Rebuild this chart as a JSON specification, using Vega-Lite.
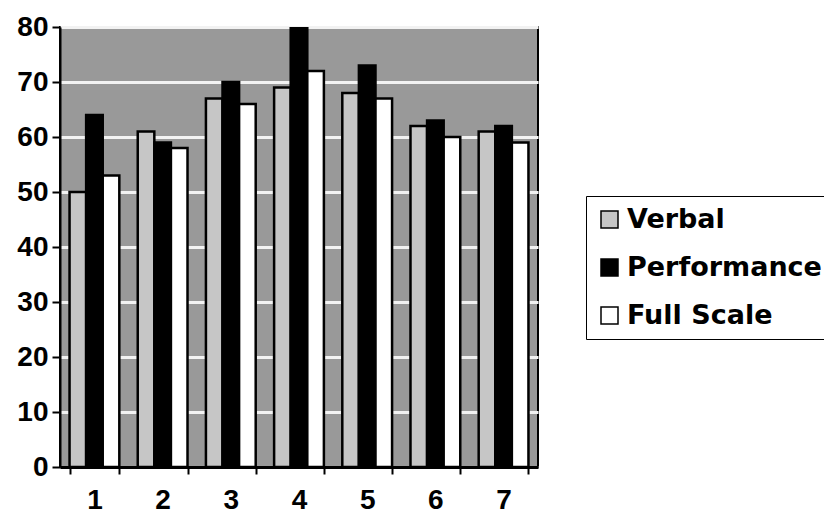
{
  "$schema": "https://vega.github.io/schema/vega-lite/v6.json",
  "autosize": "none",
  "width": 478,
  "height": 440,
  "padding": {"left": 60, "top": 27, "right": 286, "bottom": 48},
  "background": "white",
  "data": {
    "values": [
      {"group": "1", "series": "Verbal", "score": 50},
      {"group": "1", "series": "Performance", "score": 64},
      {"group": "1", "series": "Full Scale", "score": 53},
      {"group": "2", "series": "Verbal", "score": 61},
      {"group": "2", "series": "Performance", "score": 59},
      {"group": "2", "series": "Full Scale", "score": 58},
      {"group": "3", "series": "Verbal", "score": 67},
      {"group": "3", "series": "Performance", "score": 70},
      {"group": "3", "series": "Full Scale", "score": 66},
      {"group": "4", "series": "Verbal", "score": 69},
      {"group": "4", "series": "Performance", "score": 80},
      {"group": "4", "series": "Full Scale", "score": 72},
      {"group": "5", "series": "Verbal", "score": 68},
      {"group": "5", "series": "Performance", "score": 73},
      {"group": "5", "series": "Full Scale", "score": 67},
      {"group": "6", "series": "Verbal", "score": 62},
      {"group": "6", "series": "Performance", "score": 63},
      {"group": "6", "series": "Full Scale", "score": 60},
      {"group": "7", "series": "Verbal", "score": 61},
      {"group": "7", "series": "Performance", "score": 62},
      {"group": "7", "series": "Full Scale", "score": 59}
    ]
  },
  "mark": {"type": "bar", "stroke": "black", "strokeWidth": 2.5, "clip": true},
  "encoding": {
    "x": {
      "field": "group",
      "type": "nominal",
      "sort": null,
      "scale": {"paddingInner": 0.27, "paddingOuter": 0.14},
      "axis": {
        "title": null,
        "labelAngle": 0,
        "labelFont": "Liberation Sans",
        "labelFontWeight": "bold",
        "labelFontSize": 28,
        "labelColor": "black",
        "labelPadding": 12,
        "tickBand": "extent",
        "tickColor": "black",
        "tickWidth": 2,
        "tickSize": 7,
        "domainColor": "black",
        "domainWidth": 3
      }
    },
    "xOffset": {
      "field": "series",
      "type": "nominal",
      "sort": ["Verbal", "Performance", "Full Scale"]
    },
    "y": {
      "field": "score",
      "type": "quantitative",
      "scale": {"domain": [0, 80], "nice": false},
      "axis": {
        "title": null,
        "values": [0, 10, 20, 30, 40, 50, 60, 70, 80],
        "labelFont": "Liberation Sans",
        "labelFontWeight": "bold",
        "labelFontSize": 28,
        "labelColor": "black",
        "labelPadding": 4,
        "tickColor": "black",
        "tickWidth": 2,
        "tickSize": 8,
        "domainColor": "black",
        "domainWidth": 2,
        "grid": true,
        "gridColor": "#f2f2f2",
        "gridWidth": 3
      }
    },
    "fill": {
      "field": "series",
      "type": "nominal",
      "sort": ["Verbal", "Performance", "Full Scale"],
      "scale": {
        "domain": ["Verbal", "Performance", "Full Scale"],
        "range": ["#c6c6c6", "#000000", "#ffffff"]
      },
      "legend": {
        "title": null,
        "orient": "none",
        "legendX": 526,
        "legendY": 169,
        "symbolType": "square",
        "symbolSize": 289,
        "symbolStrokeColor": "black",
        "symbolStrokeWidth": 1.5,
        "labelFont": "DejaVu Sans",
        "labelFontWeight": "bold",
        "labelFontSize": 27,
        "labelColor": "black",
        "labelOffset": 4,
        "labelLimit": 400,
        "rowPadding": 20,
        "padding": 10,
        "strokeColor": "black",
        "fillColor": "white"
      }
    }
  },
  "config": {
    "view": {"fill": "#999999", "stroke": "black", "strokeWidth": 2}
  }
}
